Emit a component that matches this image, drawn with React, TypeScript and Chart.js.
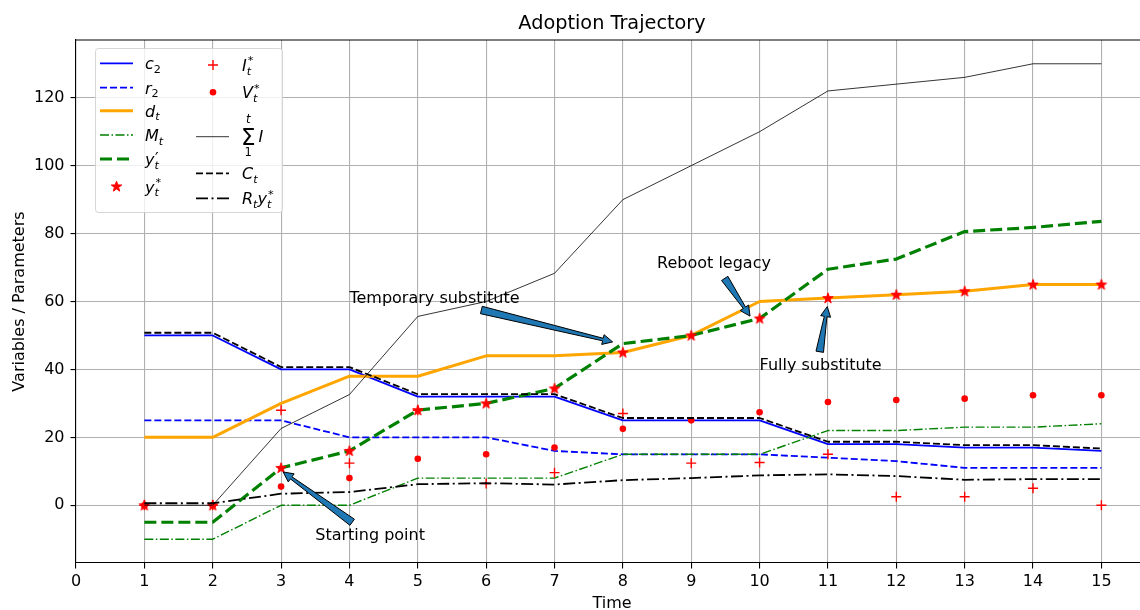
import React, { useEffect, useRef } from "react";
import { Chart, registerables } from "chart.js";

Chart.register(...registerables);

const FONT = '"DejaVu Sans", sans-serif';

// ---- data ----
const times = [1, 2, 3, 4, 5, 6, 7, 8, 9, 10, 11, 12, 13, 14, 15];
const c2 = [50, 50, 40, 40, 32, 32, 32, 25, 25, 25, 18, 18, 17, 17, 16];
const r2 = [25, 25, 25, 20, 20, 20, 16, 15, 15, 15, 14, 13, 11, 11, 11];
const dT = [20, 20, 30, 38, 38, 44, 44, 45, 50, 60, 61, 62, 63, 65, 65];
const mT = [-10, -10, 0, 0, 8, 8, 8, 15, 15, 15, 22, 22, 23, 23, 24];
const yPrime = [-5, -5, 11, 16, 28, 30, 34.4, 47.6, 50, 55, 69.5, 72.5, 80.6, 81.8, 83.6];
const yStar = [0, 0, 11, 16, 28, 30, 34.4, 45, 50, 55, 61, 62, 63, 65, 65];
const iStar = [0, 0, 28, 12.4, 28, 6.4, 9.6, 27, 12.4, 12.6, 15, 2.5, 2.5, 5, 0];
const vStar = [0, 0, 5.5, 8, 13.7, 15, 17, 22.5, 25, 27.4, 30.4, 31, 31.4, 32.4, 32.4];
const sumI = [0, 0, 22.6, 32.6, 55.6, 60, 68.3, 90, 100, 110, 122, 124, 126, 130, 130];
const cT = [50.8, 50.8, 40.7, 40.7, 32.7, 32.7, 32.7, 25.7, 25.7, 25.7, 18.7, 18.7, 17.7, 17.7, 16.7];
const rtYStar = [0.6, 0.6, 3.4, 3.9, 6.2, 6.5, 6.1, 7.4, 8, 8.8, 9.1, 8.6, 7.5, 7.7, 7.7];

const xTicks = [0, 1, 2, 3, 4, 5, 6, 7, 8, 9, 10, 11, 12, 13, 14, 15];
const yTicks = [0, 20, 40, 60, 80, 100, 120];

// annotations (data coordinates)
const annTexts = ["Starting point", "Temporary substitute", "Reboot legacy", "Fully substitute"];
const annTextXY = [[3.5, -10.3], [4.0, 59.7], [8.5, 70.0], [10.0, 39.8]];
const annTail = [[4.04, -5.0], [5.93, 57.5], [9.49, 66.8], [10.88, 45.2]];
const annTip = [[3.03, 9.8], [7.85, 48.1], [9.86, 55.7], [10.99, 58.5]];

const RED = "#ff0000";
const BLUE = "#0000ff";
const ORANGE = "#ffa500";
const GREEN = "#008000";

function starPath(ctx: CanvasRenderingContext2D, cx: number, cy: number, R: number, r: number) {
  ctx.beginPath();
  for (let i = 0; i < 10; i++) {
    const a = -Math.PI / 2 + (i * Math.PI) / 5;
    const rad = i % 2 === 0 ? R : r;
    const px = cx + rad * Math.cos(a);
    const py = cy + rad * Math.sin(a);
    if (i === 0) ctx.moveTo(px, py);
    else ctx.lineTo(px, py);
  }
  ctx.closePath();
}

function drawStar(ctx: CanvasRenderingContext2D, cx: number, cy: number) {
  starPath(ctx, cx, cy, 5.5, 2.2);
  ctx.fillStyle = RED;
  ctx.fill();
  ctx.strokeStyle = RED;
  ctx.lineWidth = 1;
  ctx.lineJoin = "miter";
  ctx.stroke();
}

function makeStarCanvas() {
  const c = document.createElement("canvas");
  c.width = 16;
  c.height = 16;
  const g = c.getContext("2d")!;
  drawStar(g, 8, 8.3);
  return c;
}

function fancyArrow(ctx: CanvasRenderingContext2D, x0: number, y0: number, x1: number, y1: number) {
  const dx = x1 - x0, dy = y1 - y0;
  const L = Math.hypot(dx, dy);
  const ux = dx / L, uy = dy / L;
  const nx = -uy, ny = ux;
  const hl = Math.min(10, L * 0.35);
  const hw = 5, tw = 3.8, nw = 1.3;
  const bx = x1 - ux * hl, by = y1 - uy * hl;
  ctx.beginPath();
  ctx.moveTo(x0 + nx * tw, y0 + ny * tw);
  ctx.lineTo(bx + nx * nw, by + ny * nw);
  ctx.lineTo(bx + nx * hw, by + ny * hw);
  ctx.lineTo(x1, y1);
  ctx.lineTo(bx - nx * hw, by - ny * hw);
  ctx.lineTo(bx - nx * nw, by - ny * nw);
  ctx.lineTo(x0 - nx * tw, y0 - ny * tw);
  ctx.closePath();
  ctx.fillStyle = "#1f77b4";
  ctx.fill();
  ctx.strokeStyle = "#000";
  ctx.lineWidth = 1;
  ctx.lineJoin = "miter";
  ctx.stroke();
}

type Part = { base?: string; it?: boolean; sup?: string; supIt?: boolean; supBig?: boolean; sub?: string; subIt?: boolean };

function fnt(size: number, it: boolean) {
  return `${it ? "italic " : ""}${size}px ${FONT}`;
}

function drawMath(ctx: CanvasRenderingContext2D, x: number, y: number, parts: Part[], size = 16) {
  let cx = x;
  ctx.textAlign = "left";
  ctx.textBaseline = "alphabetic";
  ctx.fillStyle = "#000";
  for (const p of parts) {
    if (p.base) {
      ctx.font = fnt(size, p.it !== false);
      ctx.fillText(p.base, cx, y);
      cx += ctx.measureText(p.base).width;
    }
    let w = 0;
    const s = size * 0.7;
    if (p.sup) {
      if (p.supBig) {
        ctx.font = fnt(size, false);
        ctx.fillText(p.sup, cx + 0.5, y - 1);
        w = Math.max(w, ctx.measureText(p.sup).width * 0.6);
      } else {
        ctx.font = fnt(s, !!p.supIt);
        ctx.fillText(p.sup, cx + 1, y - size * 0.42);
        w = Math.max(w, ctx.measureText(p.sup).width + 1);
      }
    }
    if (p.sub) {
      ctx.font = fnt(s, p.subIt !== false);
      ctx.fillText(p.sub, cx, y + size * 0.22);
      w = Math.max(w, ctx.measureText(p.sub).width);
    }
    cx += w;
  }
  return cx;
}

function lineSample(ctx: CanvasRenderingContext2D, x0: number, x1: number, y: number, color: string, width: number, dash: number[]) {
  ctx.save();
  ctx.beginPath();
  ctx.setLineDash(dash);
  ctx.strokeStyle = color;
  ctx.lineWidth = width;
  ctx.lineCap = "butt";
  ctx.moveTo(x0, y);
  ctx.lineTo(x1, y);
  ctx.stroke();
  ctx.restore();
}

function drawLegend(ctx: CanvasRenderingContext2D) {
  ctx.save();
  const bx = 95.5, by = 48.5, bw = 187, bh = 164, rr = 3;
  ctx.beginPath();
  ctx.moveTo(bx + rr, by);
  ctx.lineTo(bx + bw - rr, by);
  ctx.quadraticCurveTo(bx + bw, by, bx + bw, by + rr);
  ctx.lineTo(bx + bw, by + bh - rr);
  ctx.quadraticCurveTo(bx + bw, by + bh, bx + bw - rr, by + bh);
  ctx.lineTo(bx + rr, by + bh);
  ctx.quadraticCurveTo(bx, by + bh, bx, by + bh - rr);
  ctx.lineTo(bx, by + rr);
  ctx.quadraticCurveTo(bx, by, bx + rr, by);
  ctx.closePath();
  ctx.fillStyle = "rgba(255,255,255,0.8)";
  ctx.fill();
  ctx.strokeStyle = "rgba(204,204,204,0.8)";
  ctx.lineWidth = 1;
  ctx.stroke();

  const L0 = 100, L1 = 133, LX = 145;
  const R0 = 196, R1 = 229, RX = 242;
  const off = 6;

  lineSample(ctx, L0, L1, 63.3, BLUE, 1.8, []);
  drawMath(ctx, LX, 63.3 + off, [{ base: "c", sub: "2", subIt: false }]);
  lineSample(ctx, L0, L1, 87.7, BLUE, 1.8, [7, 3]);
  drawMath(ctx, LX, 87.7 + off, [{ base: "r", sub: "2", subIt: false }]);
  lineSample(ctx, L0, L1, 110.7, ORANGE, 3, []);
  drawMath(ctx, LX, 110.7 + off, [{ base: "d", sub: "t" }]);
  lineSample(ctx, L0, L1, 135, GREEN, 1.4, [9, 2.5, 1.5, 2.5]);
  drawMath(ctx, LX, 135 + off, [{ base: "M", sub: "t" }]);
  lineSample(ctx, L0, L1, 159, GREEN, 3.2, [12, 5]);
  drawMath(ctx, LX, 159 + off, [{ base: "y", sup: "\u2032", supBig: true, sub: "t" }]);
  drawStar(ctx, 116.5, 186.7);
  drawMath(ctx, LX, 186.7 + off, [{ base: "y", sup: "*", sub: "t" }]);

  ctx.save();
  ctx.strokeStyle = RED;
  ctx.lineWidth = 1.4;
  ctx.beginPath();
  ctx.moveTo(213 - 5, 65);
  ctx.lineTo(213 + 5, 65);
  ctx.moveTo(213, 60);
  ctx.lineTo(213, 70);
  ctx.stroke();
  ctx.restore();
  drawMath(ctx, RX, 65 + off, [{ base: "I", sup: "*", sub: "t" }]);

  ctx.beginPath();
  ctx.fillStyle = RED;
  ctx.arc(213, 92.3, 3.3, 0, Math.PI * 2);
  ctx.fill();
  drawMath(ctx, RX, 92.3 + off, [{ base: "V", sup: "*", sub: "t" }]);

  lineSample(ctx, R0, R1, 136.7, "#000", 0.8, []);
  ctx.fillStyle = "#000";
  ctx.textBaseline = "alphabetic";
  ctx.textAlign = "left";
  ctx.font = `23px ${FONT}`;
  ctx.fillText("\u03A3", 241, 145);
  const sw = ctx.measureText("\u03A3").width;
  ctx.textAlign = "center";
  ctx.font = fnt(11.5, true);
  ctx.fillText("t", 241 + sw / 2, 123);
  ctx.font = fnt(11.5, false);
  ctx.fillText("1", 241 + sw / 2, 155.5);
  ctx.textAlign = "left";
  ctx.font = fnt(16, true);
  ctx.fillText("I", 241 + sw + 3, 142);

  lineSample(ctx, R0, R1, 173.3, "#000", 1.8, [7, 3]);
  drawMath(ctx, RX, 173.3 + off, [{ base: "C", sub: "t" }]);
  lineSample(ctx, R0, R1, 198.3, "#000", 1.8, [12, 3.5, 2, 3.5]);
  drawMath(ctx, RX, 198.3 + off, [{ base: "R", sub: "t" }, { base: "y", sup: "*", sub: "t" }]);
  ctx.restore();
}

const overlay = {
  id: "overlay",
  afterDatasetsDraw(chart: any) {
    const { ctx, scales } = chart;
    const x = scales.x, y = scales.y;
    ctx.save();
    for (let i = 0; i < annTexts.length; i++) {
      fancyArrow(
        ctx,
        x.getPixelForValue(annTail[i][0]),
        y.getPixelForValue(annTail[i][1]),
        x.getPixelForValue(annTip[i][0]),
        y.getPixelForValue(annTip[i][1])
      );
      ctx.fillStyle = "#000";
      ctx.font = `16px ${FONT}`;
      ctx.textAlign = "left";
      ctx.textBaseline = "alphabetic";
      ctx.fillText(annTexts[i], x.getPixelForValue(annTextXY[i][0]), y.getPixelForValue(annTextXY[i][1]));
    }
    ctx.restore();
  },
  afterDraw(chart: any) {
    const { ctx, chartArea } = chart;
    ctx.save();
    ctx.strokeStyle = "#000";
    ctx.lineWidth = 1.1;
    ctx.beginPath();
    ctx.moveTo(chartArea.left, chartArea.top);
    ctx.lineTo(chartArea.right, chartArea.top);
    ctx.stroke();

    drawLegend(ctx);

    ctx.fillStyle = "#000";
    ctx.textAlign = "center";
    ctx.textBaseline = "alphabetic";
    ctx.font = `19.3px ${FONT}`;
    ctx.fillText("Adoption Trajectory", 612, 29);
    ctx.font = `16px ${FONT}`;
    ctx.fillText("Time", 612, 608);
    ctx.save();
    ctx.translate(24, 301.5);
    ctx.rotate(-Math.PI / 2);
    ctx.fillText("Variables / Parameters", 0, 0);
    ctx.restore();
    ctx.restore();
  },
};

export default function App() {
  const ref = useRef<HTMLCanvasElement>(null);
  useEffect(() => {
    const canvas = ref.current!;
    const star = makeStarCanvas();
    const pts = (arr: number[]) => arr.map((v, i) => ({ x: times[i], y: v }));
    const line = (label: string, arr: number[], color: string, width: number, dash: number[]) => ({
      label,
      data: pts(arr),
      borderColor: color,
      backgroundColor: color,
      borderWidth: width,
      borderDash: dash,
      borderJoinStyle: "round",
      borderCapStyle: "butt",
      pointRadius: 0,
      pointHoverRadius: 0,
      fill: false,
      tension: 0,
    });
    const marks = (label: string, arr: number[], style: any, radius: number, bw: number) => ({
      label,
      data: pts(arr),
      showLine: false,
      pointStyle: style,
      pointRadius: radius,
      pointHoverRadius: radius,
      pointBackgroundColor: RED,
      pointBorderColor: RED,
      pointBorderWidth: bw,
      borderColor: RED,
      backgroundColor: RED,
    });
    const list: any[] = [
      line("c2", c2, BLUE, 1.8, []),
      line("r2", r2, BLUE, 1.8, [7, 3]),
      line("d_t", dT, ORANGE, 3, []),
      line("M_t", mT, GREEN, 1.4, [9, 2.5, 1.5, 2.5]),
      line("y'_t", yPrime, GREEN, 3.2, [12, 5]),
      marks("y*_t", yStar, star, 6, 0),
      marks("I*_t", iStar, "cross", 5, 1.4),
      marks("V*_t", vStar, "circle", 3.3, 0),
      line("sum I", sumI, "#000", 0.8, []),
      line("C_t", cT, "#000", 1.8, [7, 3]),
      line("R_t y*_t", rtYStar, "#000", 1.8, [12, 3.5, 2, 3.5]),
    ];
    const datasets = list.map((d, i) => ({ ...d, order: list.length - i }));

    const chart = new Chart(canvas, {
      type: "line",
      data: { datasets },
      options: {
        animation: false,
        responsive: false,
        devicePixelRatio: 1,
        events: [],
        layout: { autoPadding: false, padding: { left: 0, right: 0, top: 40, bottom: 0 } },
        plugins: { legend: { display: false }, tooltip: { enabled: false }, title: { display: false } },
        scales: {
          x: {
            type: "linear",
            min: 0,
            max: 15.565,
            afterBuildTicks: (s: any) => {
              s.ticks = xTicks.map((v) => ({ value: v }));
            },
            afterFit: (s: any) => {
              s.height = 47;
              s.paddingLeft = 0;
              s.paddingRight = 0;
            },
            ticks: {
              font: { size: 16, family: FONT },
              color: "#000",
              padding: 4,
              maxRotation: 0,
              autoSkip: false,
            },
            grid: { color: "#b0b0b0", lineWidth: 1.1, tickColor: "#000", tickLength: 5.5, tickWidth: 1.1 },
            border: { color: "#000", width: 1.1 },
          },
          y: {
            type: "linear",
            min: -17,
            max: 137,
            afterBuildTicks: (s: any) => {
              s.ticks = yTicks.map((v) => ({ value: v }));
            },
            afterFit: (s: any) => {
              s.width = 76;
              s.paddingTop = 0;
              s.paddingBottom = 0;
            },
            ticks: {
              font: { size: 16, family: FONT },
              color: "#000",
              padding: 6,
            },
            grid: { color: "#b0b0b0", lineWidth: 1.1, tickColor: "#000", tickLength: 5.5, tickWidth: 1.1 },
            border: { color: "#000", width: 1.1 },
          },
        },
      } as any,
      plugins: [overlay],
    });
    return () => chart.destroy();
  }, []);

  return (
    <div style={{ position: "absolute", left: 0, top: 0, width: 1140, height: 610, background: "#fff" }}>
      <canvas ref={ref} width={1140} height={610} style={{ display: "block", width: 1140, height: 610 }} />
    </div>
  );
}
